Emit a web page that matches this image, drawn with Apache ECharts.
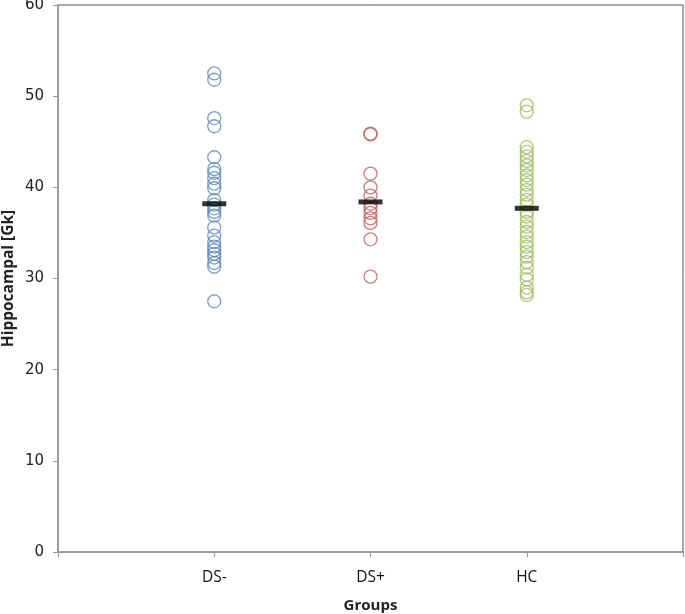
<!DOCTYPE html>
<html><head><meta charset="utf-8">
<script src="https://cdn.jsdelivr.net/npm/echarts@6/dist/echarts.min.js"></script>
<style>html,body{margin:0;padding:0;background:#fff}#c{width:685px;height:614px}</style>
</head><body><div id="c"></div>
<script>
const categories = ['DS-', 'DS+', 'HC'];
const dsMinus = [52.5, 51.8, 47.6, 46.7, 43.3, 42.0, 41.6, 41.0, 40.4, 39.9, 38.6, 38.1, 37.7, 37.3, 36.9, 35.6, 34.7, 34.0, 33.5, 33.1, 32.7, 32.3, 31.7, 31.3, 27.5];
const dsPlus = [45.9, 45.8, 41.5, 40.0, 39.1, 38.2, 37.7, 37.2, 36.6, 36.1, 34.3, 30.2];
const hc = [49.0, 48.3, 44.4, 43.9, 43.4, 42.9, 42.4, 41.9, 41.3, 40.8, 40.3, 39.7, 39.2, 38.6, 38.1, 37.3, 36.8, 36.2, 35.7, 35.1, 34.6, 34.0, 33.5, 32.9, 32.4, 31.8, 31.2, 30.4, 29.9, 29.0, 28.5, 28.2];
const means = [38.2, 38.4, 37.7];
const yTicks = [0, 10, 20, 30, 40, 50, 60];
const colors = ['#5b84b8', '#b5605c', '#9dba60'];
const groups = [dsMinus, dsPlus, hc];

const chart = echarts.init(document.getElementById('c'), null, {renderer: 'canvas'});
const series = groups.map((g, i) => ({
  type: 'scatter',
  data: g.map(v => [i + 1, v]),
  symbol: 'circle',
  symbolSize: 13,
  itemStyle: {color: 'rgba(0,0,0,0)', borderColor: colors[i], borderWidth: 1.3},
  z: 2
}));
series.push({
  type: 'scatter',
  data: means.map((v, i) => [i + 1, v]),
  symbol: 'rect',
  symbolSize: [24, 5],
  itemStyle: {color: '#000'},
  z: 3
});
chart.setOption({
  animation: false,
  grid: {left: 58, top: 5, right: 2, bottom: 62, show: true, borderColor: '#555', borderWidth: 1, outerBoundsMode: 'none', containLabel: false},
  xAxis: {
    type: 'value', min: 0, max: 4, interval: 1,
    name: 'Groups', nameLocation: 'middle', nameGap: 46, nameMoveOverlap: false,
    nameTextStyle: {fontFamily: 'Open Sans', fontWeight: 'bold', fontSize: 15, color: '#222'},
    axisLine: {lineStyle: {color: '#999', width: 1.5}},
    axisTick: {show: true, length: 5, lineStyle: {color: '#999'}},
    splitLine: {show: false},
    axisLabel: {margin: 18, fontFamily: 'Open Sans', fontSize: 15.5, color: '#111',
      formatter: v => categories[v - 1] || ''}
  },
  yAxis: {
    type: 'value', min: 0, max: 60, interval: 10,
    name: 'Hippocampal [Gk]', nameLocation: 'middle', nameGap: 41, nameMoveOverlap: false,
    nameTextStyle: {fontFamily: 'Open Sans', fontWeight: 'bold', fontSize: 15.5, color: '#222'},
    axisLine: {show: true, lineStyle: {color: '#999', width: 1.5}},
    axisTick: {show: true, length: 5, lineStyle: {color: '#999'}},
    splitLine: {show: false},
    axisLabel: {margin: 14, fontFamily: 'DejaVu Sans', fontSize: 15, color: '#222',
      formatter: v => yTicks.includes(v) ? String(v) : ''}
  },
  series: series
});
</script></body></html>
